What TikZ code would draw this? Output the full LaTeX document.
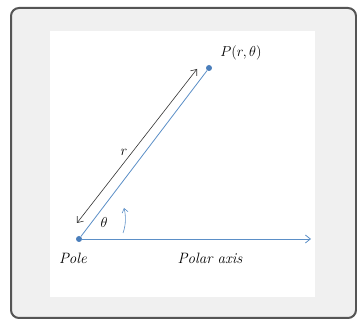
\documentclass[tikz,border=0pt]{standalone}
\usetikzlibrary{arrows.meta}
\definecolor{frameg}{HTML}{555555}
\definecolor{bgg}{HTML}{F0F0F0}
\definecolor{bluept}{HTML}{4A7EBB}
\definecolor{blueln}{HTML}{5B8FC7}
\tikzset{
  lbl/.style={font=\fontsize{15}{18}\selectfont\itshape, inner sep=1pt},
  dot/.style={circle, fill=bluept, inner sep=0pt, minimum size=6pt},
  blueline/.style={draw=blueln, line width=0.8pt},
}
\begin{document}
\begin{tikzpicture}[x=1pt,y=-1pt]
\useasboundingbox (0,0) rectangle (357,320);
\draw[frameg, line width=2pt, fill=bgg, rounded corners=8pt] (11,8) rectangle (356,318);
\fill[white] (50,31) rectangle (315,297);
\node[dot] (O) at (79,239) {};
\node[dot] (P) at (209,68) {};
\coordinate (A) at (311,239);
\draw[blueline, -{Straight Barb[length=5pt,width=8pt]}] (O) -- (A);
\draw[blueline] (O) -- (P);
\coordinate (r1) at (77,223);
\coordinate (r2) at (197,69);
\draw[black!80, line width=0.6pt, {Straight Barb[length=5pt,width=8pt]}-{Straight Barb[length=5pt,width=8pt]}] (r1) -- (r2);
\node[lbl] (rl) at (124,152) {$r$};
\node[lbl] (th) at (104,223) {$\theta$};
\coordinate (c1) at (123,233);
\coordinate (c2) at (124,208);
\draw[blueline, line width=0.6pt, -{Straight Barb[length=4pt,width=6pt]}] (c1) .. controls (126,225) and (126,216) .. (c2);
\node[lbl] (pl) at (241,53) {$P(r,\theta)$};
\node[lbl] (pole) at (73,258) {Pole};
\node[lbl] (ax) at (210,258) {Polar axis};
\end{tikzpicture}
\end{document}
